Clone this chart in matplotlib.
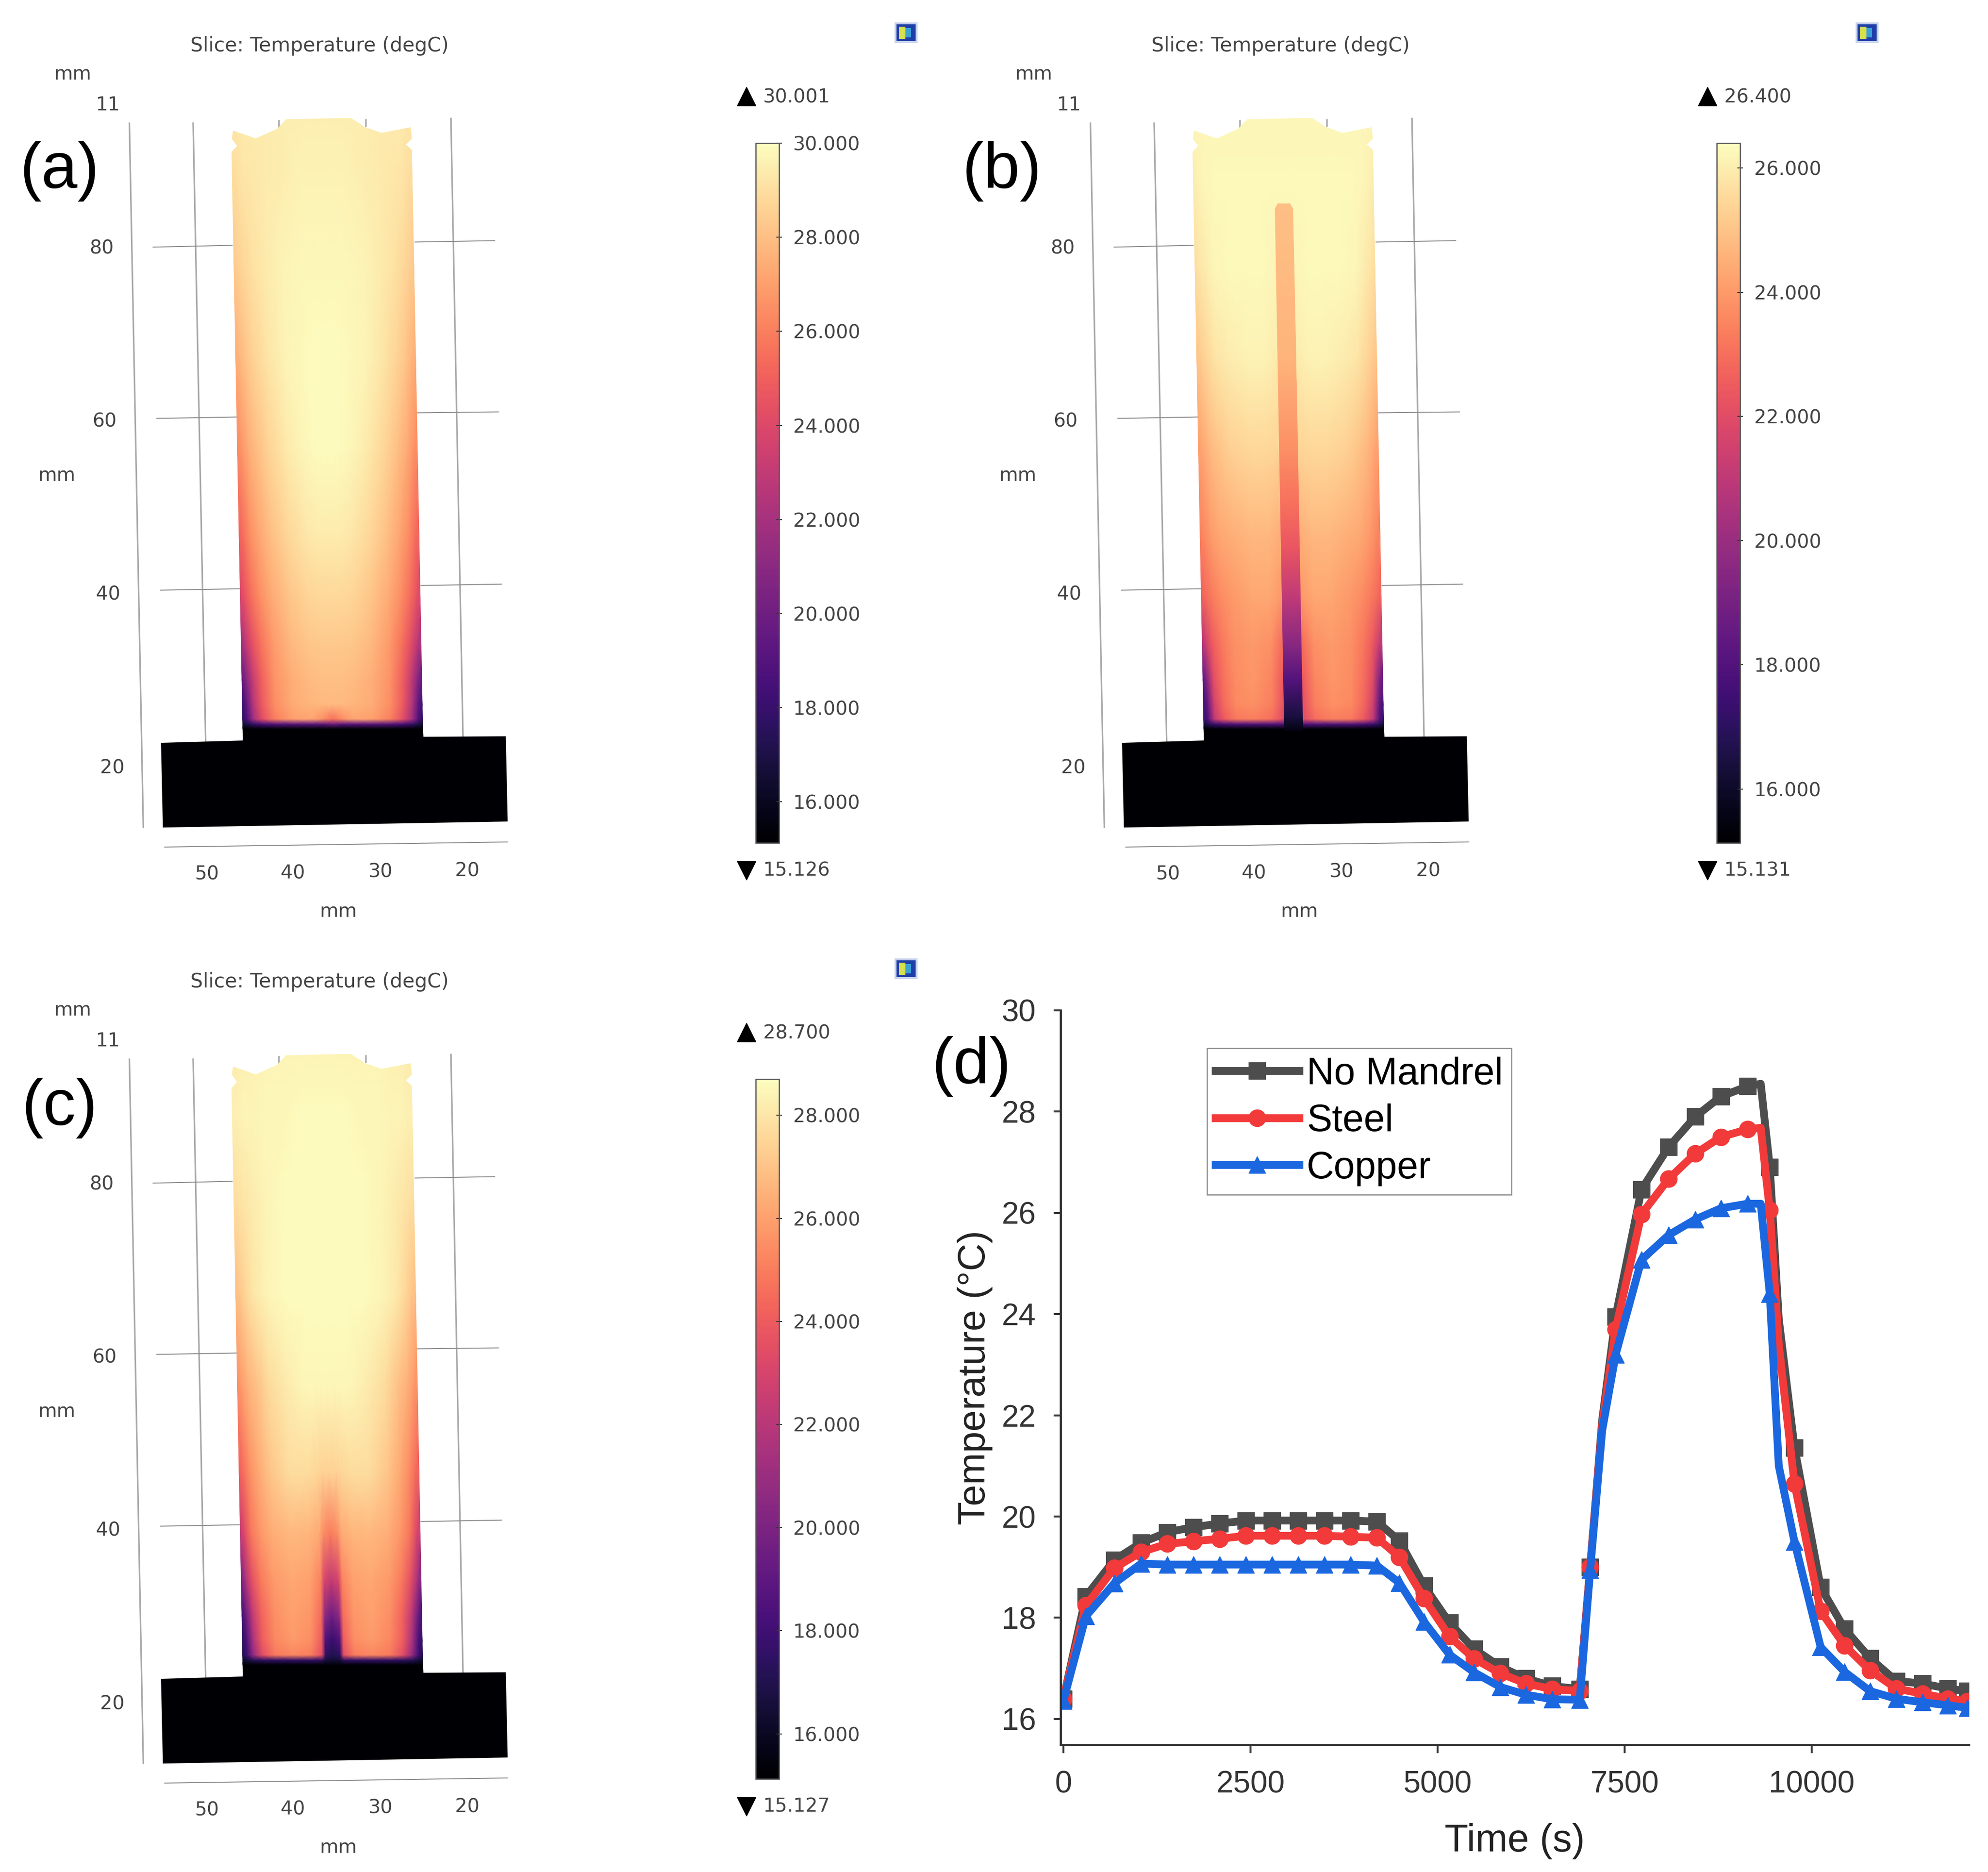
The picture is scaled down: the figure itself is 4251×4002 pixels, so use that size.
import numpy as np
from matplotlib import pyplot as plt
from matplotlib.cm import ScalarMappable
from matplotlib.colors import Normalize
from matplotlib.patches import Polygon, Rectangle

W, H = 4251, 4002

# (d) time traces
time = [0, 300, 680, 1040, 1390, 1740, 2090, 2440, 2790, 3140, 3490, 3840, 4190, 4490, 4820, 5160, 5490, 5840,
        6180, 6530, 6900, 7040, 7200, 7380, 7725, 8088, 8444, 8788, 9144, 9319, 9440, 9560, 9770, 10120, 10440,
        10780, 11130, 11480, 11820, 12080]
no_mandrel = [16.4, 18.42, 19.14, 19.48, 19.69, 19.79, 19.86, 19.92, 19.92, 19.92, 19.92, 19.92, 19.9, 19.52, 18.63,
              17.9, 17.38, 17.03, 16.8, 16.65, 16.59, 19.0, 21.9, 23.95, 26.46, 27.3, 27.9, 28.3, 28.5, 28.55,
              26.9, 23.9, 21.36, 18.6, 17.78, 17.2, 16.75, 16.7, 16.6, 16.55]
steel = [16.4, 18.24, 18.98, 19.3, 19.46, 19.51, 19.56, 19.62, 19.62, 19.62, 19.62, 19.6, 19.58, 19.2, 18.38,
         17.63, 17.19, 16.9, 16.7, 16.59, 16.55, 19.0, 21.8, 23.7, 25.97, 26.67, 27.17, 27.5, 27.65, 27.68,
         26.05, 23.4, 20.65, 18.13, 17.45, 16.96, 16.6, 16.5, 16.4, 16.35]
copper = [16.36, 18.03, 18.68, 19.07, 19.05, 19.05, 19.05, 19.05, 19.05, 19.05, 19.05, 19.05, 19.03, 18.69, 17.92,
          17.27, 16.92, 16.63, 16.48, 16.39, 16.38, 18.95, 21.7, 23.2, 25.07, 25.56, 25.87, 26.09, 26.18, 26.18,
          24.4, 21.0, 19.5, 17.42, 16.93, 16.55, 16.4, 16.33, 16.27, 16.22]
no_marker = [22, 29, 31]  # bends in the line with no symbol on them
x_ticks = [0, 2500, 5000, 7500, 10000]
y_ticks = [16, 18, 20, 22, 24, 26, 28, 30]

# slice panels: temperature, rows top to bottom, wall to centre line
rows_y = [250, 385, 577, 769, 962, 1154, 1282, 1385, 1461, 1513, 1545, 1556, 1566]
cols_f = [0, .025, .06, .11, .18, .28, .38, .44, .46, .5]
temp_a = [[29.3, 29.3, 29.4, 29.4, 29.4, 29.5, 29.5, 29.5, 29.5, 29.5],
          [28.9, 29.0, 29.2, 29.3, 29.4, 29.5, 29.6, 29.6, 29.6, 29.6],
          [28.3, 28.5, 28.8, 29.1, 29.4, 29.7, 29.8, 29.8, 29.8, 29.8],
          [27.4, 27.7, 28.2, 28.7, 29.2, 29.7, 29.85, 29.9, 29.9, 29.9],
          [26.3, 26.7, 27.4, 28.0, 28.7, 29.4, 29.8, 29.9, 29.9, 29.9],
          [25.0, 25.5, 26.4, 27.2, 28.0, 28.8, 29.3, 29.4, 29.4, 29.4],
          [23.8, 24.5, 25.5, 26.5, 27.4, 28.2, 28.7, 28.8, 28.8, 28.8],
          [21.8, 22.8, 24.2, 25.6, 26.9, 27.8, 28.2, 28.3, 28.3, 28.3],
          [19.5, 20.8, 23.0, 25.0, 26.6, 27.5, 27.9, 28.0, 28.0, 28.0],
          [18.0, 19.5, 22.5, 24.8, 26.5, 27.4, 27.7, 27.8, 27.8, 27.9],
          [17.6, 18.8, 21.8, 24.2, 26.0, 27.0, 27.2, 26.6, 26.2, 25.6],
          [16.6, 17.0, 17.8, 18.5, 19.0, 19.2, 19.3, 19.3, 19.5, 19.9],
          [15.3, 15.3, 15.3, 15.3, 15.3, 15.3, 15.3, 15.3, 15.3, 15.3]]
temp_b = [[26.2, 26.2, 26.2, 26.2, 26.2, 26.2, 26.2, 26.2, 26.2, 26.2],
          [26.0, 26.1, 26.2, 26.3, 26.3, 26.3, 26.3, 26.3, 26.3, 26.3],
          [25.6, 25.8, 26.0, 26.2, 26.3, 26.3, 26.3, 26.2, 26.2, 26.2],
          [25.0, 25.2, 25.5, 25.8, 26.0, 26.1, 26.1, 26.0, 26.0, 26.0],
          [24.1, 24.3, 24.7, 25.0, 25.3, 25.5, 25.5, 25.4, 25.4, 25.4],
          [23.4, 23.6, 24.0, 24.3, 24.5, 24.7, 24.7, 24.5, 24.5, 24.5],
          [22.6, 22.9, 23.3, 23.7, 24.0, 24.3, 24.3, 24.0, 24.0, 24.0],
          [20.5, 21.5, 22.5, 23.2, 23.8, 24.0, 23.8, 23.0, 23.0, 23.0],
          [18.3, 19.5, 22.0, 23.0, 23.7, 23.9, 23.5, 22.5, 22.5, 22.5],
          [17.5, 18.5, 21.5, 22.8, 23.6, 23.8, 23.4, 22.3, 22.3, 22.3],
          [17.2, 18.0, 21.0, 22.4, 23.2, 23.4, 23.0, 22.0, 22.0, 22.0],
          [16.4, 16.8, 17.4, 17.8, 18.0, 18.0, 18.0, 18.0, 18.0, 18.0],
          [15.3, 15.3, 15.3, 15.3, 15.3, 15.3, 15.3, 15.3, 15.3, 15.3]]
temp_c = [[28.2, 28.2, 28.3, 28.3, 28.4, 28.4, 28.4, 28.4, 28.4, 28.4],
          [28.3, 28.3, 28.4, 28.4, 28.5, 28.5, 28.6, 28.6, 28.6, 28.6],
          [27.7, 27.8, 28.0, 28.2, 28.4, 28.6, 28.6, 28.6, 28.6, 28.6],
          [26.8, 27.1, 27.6, 28.1, 28.4, 28.6, 28.6, 28.6, 28.6, 28.6],
          [25.5, 25.9, 26.5, 27.0, 27.7, 28.2, 28.5, 28.5, 28.5, 28.5],
          [24.0, 24.6, 25.5, 26.3, 27.1, 27.7, 27.7, 27.5, 27.4, 27.4],
          [22.3, 23.3, 24.8, 25.7, 26.4, 26.7, 26.6, 26.3, 25.5, 25.0],
          [19.8, 21.5, 23.5, 24.9, 25.8, 26.2, 26.0, 25.2, 23.0, 22.3],
          [18.0, 19.5, 22.2, 24.2, 25.5, 26.0, 25.7, 24.5, 20.5, 19.5],
          [17.3, 18.5, 21.5, 24.0, 25.3, 25.8, 25.5, 24.0, 18.5, 17.8],
          [17.0, 18.0, 20.8, 23.4, 24.9, 25.3, 25.0, 23.5, 17.5, 17.0],
          [16.2, 16.6, 17.2, 17.5, 17.6, 17.6, 17.6, 17.5, 16.6, 16.4],
          [15.3, 15.3, 15.3, 15.3, 15.3, 15.3, 15.3, 15.3, 15.3, 15.3]]
# mandrel in (b), drawn over the wall
mandrel_y = [437, 577, 769, 962, 1090, 1180, 1282, 1385, 1461, 1540, 1570]
mandrel_t = [24.9, 24.8, 24.6, 23.8, 23.0, 22.3, 21.0, 19.5, 18.0, 16.4, 15.5]

limits_a = [15.126, 30.001]
limits_b = [15.131, 26.400]
limits_c = [15.127, 28.700]
bar_ticks_a = [16, 18, 20, 22, 24, 26, 28, 30]
bar_ticks_b = [16, 18, 20, 22, 24, 26]
bar_ticks_c = [16, 18, 20, 22, 24, 26, 28]

# outline of the part, in the units of one slice panel
body = [(500, 280), (550, 297), (596, 276), (615, 256), (754, 253), (785, 273), (820, 285), (882, 273), (885, 297),
        (872, 311), (885, 323), (910, 1595), (522, 1595), (497, 327), (510, 314), (498, 298)]
base = [(521, 1560), (909, 1560), (910, 1583), (1087, 1582), (1091, 1765), (350, 1778), (346, 1596), (522, 1591)]
grid_long = [[(278, 263), (308, 1779)], [(415, 263), (442, 1594)], [(969, 253), (995, 1583)], [(599, 257), (599, 275)],
             [(786, 255), (786, 272)]]
grid_short = [[(328, 531), (500, 527)], [(891, 520), (1064, 517)], [(336, 899), (509, 896)], [(895, 887), (1072, 885)],
              [(344, 1268), (517, 1265)], [(904, 1258), (1079, 1255)], [(353, 1820), (1092, 1809)]]
slice_labels = [('mm', 156, 160), ('11', 232, 226), ('80', 218, 534), ('60', 224, 906), ('mm', 122, 1022),
                ('40', 232, 1278), ('20', 241, 1651), ('50', 445, 1879), ('40', 629, 1877), ('30', 818, 1874),
                ('20', 1004, 1872), ('mm', 727, 1959)]

plt.rcParams['font.family'] = ['DejaVu Sans']
arial = 'Liberation Sans'
fig = plt.figure(figsize=(W / 100, H / 100), dpi=100)


def px_axes(x0, y0, x1, y1, **kw):
    return fig.add_axes([x0 / W, 1 - y1 / H, (x1 - x0) / W, (y1 - y0) / H], **kw)


def left_wall(y):
    return 497 + (y - 327) * 25 / 1264


def right_wall(y):
    return 885 + (y - 323) * 25 / 1260


def draw_slice(dx, dy, table, limits, bar_ticks, name, mandrel=False):
    ax = px_axes(dx, dy, dx + 1990, dy + 1990)
    ax.set_xlim(0, 2000)
    ax.set_ylim(2000, 0)
    ax.axis('off')
    ax.patch.set_alpha(0)
    norm = Normalize(limits[0], limits[1])

    for seg in grid_long:
        ax.plot(*zip(*seg), color='#a8a8a8', lw=2.4, zorder=1, solid_capstyle='butt')
    for seg in grid_short:
        ax.plot(*zip(*seg), color='#8c8c8c', lw=1.5, zorder=1, solid_capstyle='butt')

    ax.add_patch(Polygon(base, facecolor=plt.cm.magma(0.0), edgecolor='none', zorder=2))

    ys = np.array(rows_y, dtype=float)
    half = np.array(cols_f)
    fr = np.r_[half, 1 - half[-2::-1]]
    t = np.array(table)
    t = np.hstack([t, t[:, -2::-1]])
    xx = np.array([left_wall(y) + fr * (right_wall(y) - left_wall(y)) for y in ys])
    yy = np.repeat(ys[:, None], len(fr), axis=1)
    mesh = ax.pcolormesh(xx, yy, t, shading='gouraud', cmap='magma', norm=norm, zorder=3)
    mesh.set_clip_path(Polygon(body, transform=ax.transData))

    if mandrel:
        my = np.array(mandrel_y, dtype=float)
        cx = 694 + (my - 437) * 20 / 1103
        mx = np.column_stack([cx - 20, cx + 20])
        myy = np.column_stack([my, my])
        mt = np.column_stack([mandrel_t, mandrel_t])
        m2 = ax.pcolormesh(mx, myy, mt, shading='gouraud', cmap='magma', norm=norm, zorder=4)
        m2.set_clip_path(Polygon([(680, 437), (708, 437), (714, 448), (738, 1572), (694, 1572), (674, 448)],
                                 transform=ax.transData))

    ax.text(687, 98, 'Slice: Temperature (degC)', fontsize=30.5, color='#444444', ha='center', va='center')
    for txt, x, y in slice_labels:
        ax.text(x, y, txt, fontsize=29.5, color='#444444', ha='center', va='center')

    # max and min markers with their readings
    ax.plot([1604], [207], marker='^', ms=29, color='black', zorder=5)
    ax.plot([1604], [1870], marker='v', ms=29, color='black', zorder=5)
    ax.text(1640, 210, '%.3f' % limits[1], fontsize=29.5, color='#444444', va='center')
    ax.text(1640, 1871, '%.3f' % limits[0], fontsize=29.5, color='#444444', va='center')

    # the little plot icon top right
    ax.add_patch(Rectangle((1925, 50), 45, 40, facecolor='#1f3fa8', edgecolor='#c9d4ee', lw=3, zorder=5))
    ax.add_patch(Rectangle((1932, 57), 14, 26, facecolor='#d9e04a', edgecolor='none', zorder=6))
    ax.add_patch(Rectangle((1946, 60), 12, 20, facecolor='#3aa0d8', edgecolor='none', zorder=6))

    cax = px_axes(dx + 1616, dy + 306, dx + 1666, dy + 1802)
    cb = fig.colorbar(ScalarMappable(norm=norm, cmap='magma'), cax=cax)
    cb.set_ticks(bar_ticks)
    cb.set_ticklabels(['%.3f' % v for v in bar_ticks])
    cb.ax.tick_params(direction='inout', length=9, width=1.5, color='#333333', labelsize=29.5,
                      labelcolor='#444444', pad=17)
    cb.outline.set_edgecolor('#555555')
    cb.outline.set_linewidth(1.8)

    fig.text(name[1] / W, 1 - name[2] / H, name[0], fontsize=100, family=arial, ha='center', va='center')


draw_slice(0, 0, temp_a, limits_a, bar_ticks_a, ('(a)', 127, 366))
draw_slice(2055, 0, temp_b, limits_b, bar_ticks_b, ('(b)', 2142, 366), mandrel=True)
draw_slice(0, 2001, temp_c, limits_c, bar_ticks_c, ('(c)', 127, 2369))

ax = px_axes(2268, 2160, 4210, 3730)
ax.patch.set_alpha(0)
series = [('No Mandrel', no_mandrel, '#4d4d4d', 's'), ('Steel', steel, '#f23a3a', 'o'), ('Copper', copper, '#1a67e0', '^')]
marked = [i for i in range(len(time)) if i not in no_marker]
for label, vals, colour, mark in series:
    ax.plot(time, vals, color=colour, lw=12, marker=mark, ms=26, markevery=marked, label=label,
            solid_joinstyle='round')

ax.set_xlim(-37, 12100)
ax.set_ylim(15.49, 30)
ax.set_xticks(x_ticks)
ax.set_yticks(y_ticks)
ax.spines['top'].set_visible(False)
ax.spines['right'].set_visible(False)
for side in ['left', 'bottom']:
    ax.spines[side].set_linewidth(3.4)
    ax.spines[side].set_color('#333333')
ax.tick_params(axis='x', length=13, width=3, color='#333333', pad=26)
ax.tick_params(axis='y', length=11, width=3, color='#333333', pad=27)
for lab in ax.get_xticklabels() + ax.get_yticklabels():
    lab.set_family(arial)
    lab.set_fontsize(47.5)
    lab.set_color('#333333')
ax.set_xlabel('Time (s)', fontsize=59.5, family=arial, color='#222222')
ax.set_ylabel('Temperature (°C)', fontsize=59, family=arial, color='#222222')
ax.xaxis.set_label_coords(0.5, -(3936 - 3730) / (3730 - 2160), transform=ax.transAxes)
ax.yaxis.set_label_coords(-(2268 - 2085) / (4210 - 2268), 0.5, transform=ax.transAxes)
ax.xaxis.label.set_va('center')
ax.yaxis.label.set_va('center')

leg = ax.legend(loc='upper left', bbox_to_anchor=(2581 / W, 1 - 2241 / H), bbox_transform=fig.transFigure,
                prop={'family': arial, 'size': 58.5}, frameon=True, fancybox=False, edgecolor='#8a8a8a', framealpha=1,
                borderaxespad=0, handlelength=2.2, handletextpad=0.2, labelspacing=0.3, borderpad=0.22, numpoints=1)
leg.get_frame().set_linewidth(1.8)

fig.text(2077 / W, 1 - 2280 / H, '(d)', fontsize=100, family=arial, ha='center', va='center')

fig.savefig('out.png', dpi=100, facecolor='white')
